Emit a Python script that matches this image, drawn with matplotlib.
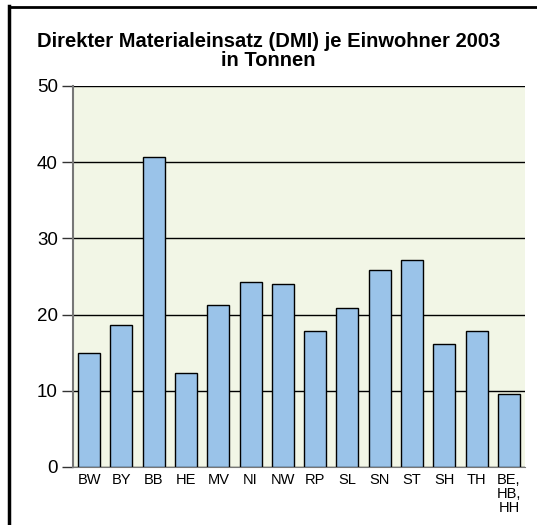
import matplotlib.pyplot as plt
from matplotlib.lines import Line2D

plt.rcParams['font.family'] = ['Liberation Sans', 'DejaVu Sans']

laender = ['BW', 'BY', 'BB', 'HE', 'MV', 'NI', 'NW', 'RP', 'SL', 'SN', 'ST', 'SH', 'TH', 'BE,\nHB,\nHH']
dmi = [15.0, 18.6, 40.7, 12.3, 21.2, 24.3, 24.0, 17.8, 20.8, 25.9, 27.1, 16.2, 17.8, 9.6]
yticks = [0, 10, 20, 30, 40, 50]

fig = plt.figure(figsize=(5.37, 5.25), dpi=100)
ax = fig.add_axes([0.136, 0.1105, 0.8417, 0.7257])

# outer frame (left and top edges visible)
fig.lines.append(Line2D([8.5 / 537, 8.5 / 537], [0, 1 - 6 / 525], transform=fig.transFigure,
                        color='black', linewidth=2.5))
fig.lines.append(Line2D([8.5 / 537, 1], [1 - 6.5 / 525, 1 - 6.5 / 525], transform=fig.transFigure,
                        color='black', linewidth=2))

x = range(len(laender))
ax.set_facecolor('#F2F6E6')
ax.bar(x, dmi, width=0.68, color='#9AC3E9', edgecolor='black', linewidth=1, zorder=3)

ax.set_ylim(0, 50)
ax.set_xlim(-0.5, len(laender) - 0.5)
ax.set_yticks(yticks)
ax.yaxis.grid(True, color='black', linewidth=1, zorder=1)
ax.set_xticks(list(x))
ax.set_xticklabels(laender, fontsize=10.5, linespacing=1.0, va='top')
ax.tick_params(axis='x', length=0, pad=4)
ax.tick_params(axis='y', length=8, width=1, color='#333333', labelsize=13.5, pad=3)

for s in ['top', 'right']:
    ax.spines[s].set_visible(False)
ax.spines['left'].set_color('#777777')
ax.spines['left'].set_linewidth(1.5)
ax.spines['bottom'].set_color('#777777')

fig.text(0.5, 1 - 51 / 525, 'Direkter Materialeinsatz (DMI) je Einwohner 2003\nin Tonnen',
         ha='center', va='center', fontsize=14.5, fontweight='bold', linespacing=0.95)

fig.savefig('out.png', dpi=100)
